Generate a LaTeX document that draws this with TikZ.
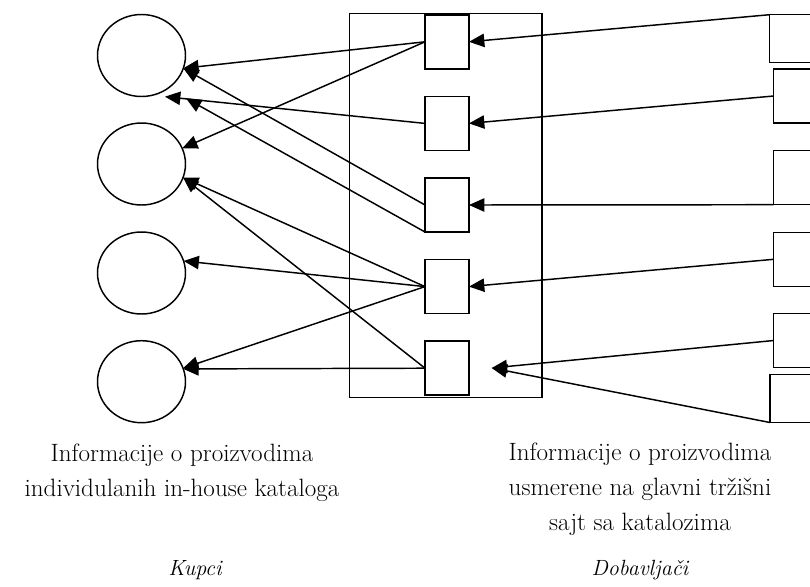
\documentclass[tikz,border=0pt]{standalone}
\usepackage{tikz}
\usetikzlibrary{arrows.meta,positioning,shapes.geometric}

\begin{document}
\begin{tikzpicture}[x=0.75pt,y=-0.75pt,line width=1.1pt,>={Triangle[length=11.5pt,width=10pt]},
  kupac/.style={ellipse,draw,minimum width=66pt,minimum height=61.5pt,inner sep=0pt,outer sep=0pt},
  katalog/.style={rectangle,draw,minimum width=33pt,minimum height=40.5pt,inner sep=0pt,outer sep=0pt},
  dobavljac/.style={rectangle,draw,anchor=north west,minimum width=45pt,inner sep=0pt,outer sep=0pt},
  opis/.style={align=center,font=\fontsize{18.8}{26.25}\selectfont},
  strana/.style={font=\fontsize{16.5}{20}\selectfont\itshape}]
\clip (0,0) rectangle (810,586);
% buyers
\foreach \i/\y in {1/55.5,2/164,3/273,4/381.7}
  \node[kupac] (c\i) at (141.5,\y) {};
% market site with catalogues
\draw (349.3,13.3) rectangle (542,397.3);
\foreach \i/\y in {1/41.8,2/123.4,3/205,4/286.6,5/368.2}
  \node[katalog] (b\i) at (447,\y) {};
% suppliers
\node[dobavljac,minimum height=36pt] (d1) at (769.7,14.7) {};
\node[dobavljac,minimum height=40.5pt] (d2) at (773.7,69) {};
\node[dobavljac,minimum height=40.5pt] (d3) at (773.7,150.7) {};
\node[dobavljac,minimum height=40.5pt] (d4) at (773.7,232.3) {};
\node[dobavljac,minimum height=40.5pt] (d5) at (773.7,313.5) {};
\node[dobavljac,minimum height=36pt] (d6) at (770,374.5) {};
% free arrow ends
\coordinate (k1) at (165,96.7);
\coordinate (k2) at (186,98.3);
\coordinate (t) at (491.7,368);
% suppliers -> site
\draw[->] (d1.north west) -- (b1.east);
\draw[->] (d2.west) -- (b2.east);
\draw[->] (d3.south west) -- (b3.east);
\draw[->] (d4.west) -- (b4.east);
\draw[->] (d5.west) -- (t);
\draw[->] (d6.south west) -- (t);
% site -> buyers
\draw[->] (b1.west) -- (c1.-17);
\draw[->] (b1.west) -- (c2.21);
\draw[->] (b2.west) -- (k1);
\draw[->] (b3.west) -- (c1.-17);
\draw[->] (b3.south west) -- (k2);
\draw[->] (b4.west) -- (c2.-18);
\draw[->] (b4.west) -- (c3.16);
\draw[->] (b4.west) -- (c4.18);
\draw[->] (b5.west) -- (c4.17);
\draw[->] (b5.west) -- (c2.-18);
% texts
\node[opis] (opis-kupci) at (182,472.5) {Informacije o proizvodima\\individulanih in-house kataloga};
\node[opis] (opis-sajt) at (640,489.5) {Informacije o proizvodima\\usmerene na glavni tržišni\\sajt sa katalozima};
\node[strana] (kupci) at (195,570) {Kupci};
\node[strana] (dobavljaci) at (640,570) {Dobavljači};
\end{tikzpicture}
\end{document}
